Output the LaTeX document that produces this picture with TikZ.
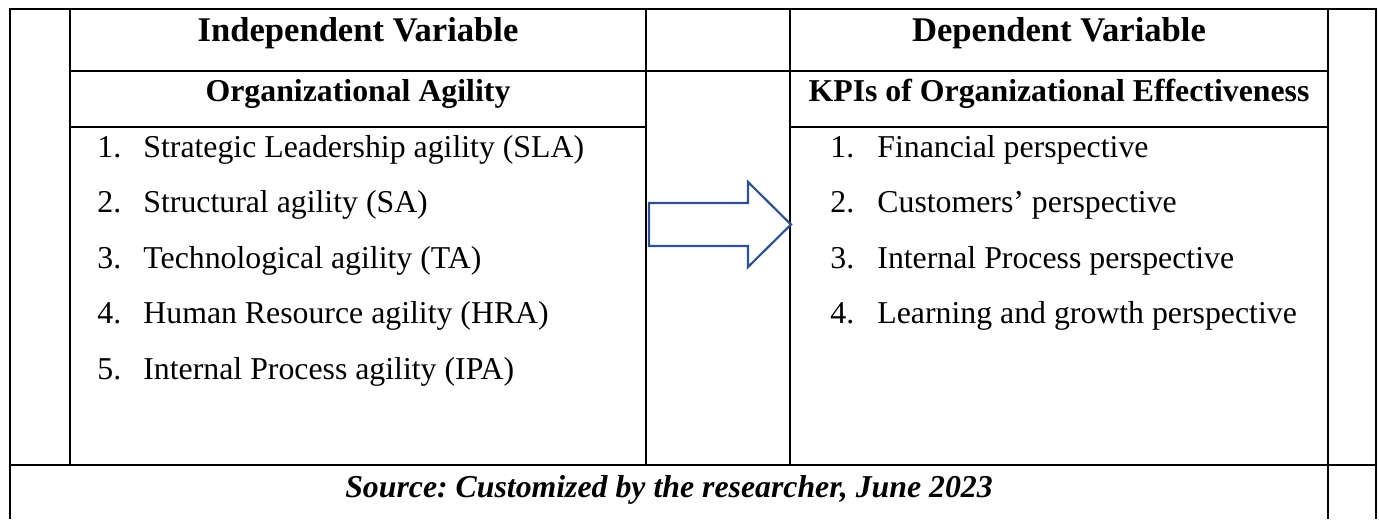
\documentclass[tikz,border=0pt]{standalone}
\usepackage{fontspec}
\setmainfont{Liberation Serif}
\usepackage{xcolor}
\definecolor{arrowblue}{HTML}{2F528F}
\frenchspacing

\begin{document}
\begin{tikzpicture}[x=0.5pt,y=-0.5pt,
        rule/.style={line width=1pt},
        headtext/.style={font=\fontsize{17.3}{20}\selectfont\bfseries,inner sep=0pt,anchor=base},
        subtext/.style={font=\fontsize{15.9}{19}\selectfont\bfseries,inner sep=0pt,anchor=base},
        itemtext/.style={font=\fontsize{15.9}{19}\selectfont,inner sep=0pt,anchor=base west}]
        \useasboundingbox (0,0) rectangle (1379,519);
        % table rules
        \draw[rule] (10,519) -- (10,9) -- (1376,9) -- (1376,519);
        \draw[rule] (70,9) -- (70,465) (646,9) -- (646,465) (790,9) -- (790,465) (1328,9) -- (1328,519);
        \draw[rule] (70,71) -- (1328,71);
        \draw[rule] (70,127) -- (646,127) (790,127) -- (1328,127);
        \draw[line width=1.4pt] (10,465) -- (1376,465);
        % headings
        \node[headtext] (indep) at (358,42) {Independent Variable};
        \node[headtext] (dep) at (1059,42) {Dependent Variable};
        \node[subtext] (agility) at (358,102) {Organizational Agility};
        \node[subtext] (kpis) at (1059,102) {KPIs of Organizational Effectiveness};
        % lists
        \foreach \txt [count=\i] in {Strategic Leadership agility (SLA),Structural agility (SA),Technological agility (TA),Human Resource agility (HRA),Internal Process agility (IPA)} {
            \node[itemtext] (oa-num-\i) at (97,{101.5+55.5*\i}) {\i.};
            \node[itemtext] (oa-\i) at (143,{101.5+55.5*\i}) {\txt};
        }
        \foreach \txt [count=\i] in {Financial perspective,Customers’ perspective,Internal Process perspective,Learning and growth perspective} {
            \node[itemtext] (kpi-num-\i) at (830,{101.5+55.5*\i}) {\i.};
            \node[itemtext] (kpi-\i) at (877,{101.5+55.5*\i}) {\txt};
        }
        % block arrow
        \draw[arrowblue,line width=1.1pt,line join=miter] (649,203) -- (748,203) -- (748,182) -- (791,224.5)
            -- (748,267) -- (748,246) -- (649,246) -- cycle;
        \node[subtext,font=\fontsize{15.9}{19}\selectfont\bfseries\itshape] (source) at (669,497) {Source: Customized by the researcher, June 2023};
\end{tikzpicture}
\end{document}
